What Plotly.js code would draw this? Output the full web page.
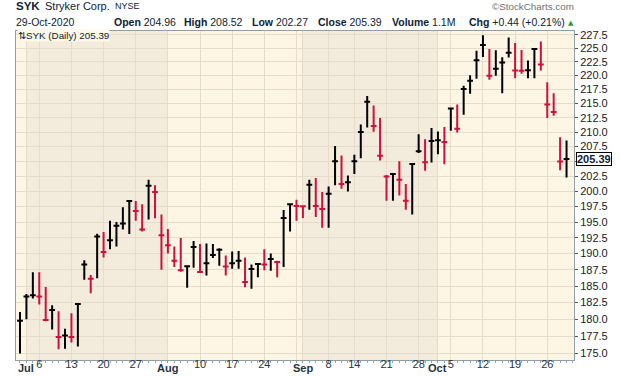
<!DOCTYPE html>
<html>
<head>
<meta charset="utf-8">
<script src="https://cdn.plot.ly/plotly-3.0.1.min.js"></script>
<style>
  html, body { margin: 0; padding: 0; background: #ffffff; }
  #chart { width: 620px; height: 376px; }
</style>
</head>
<body>
<div id="chart"></div>
<script>
// ---- Data ----
const dates = [
  '2020-06-30',
  '2020-07-01','2020-07-02','2020-07-06','2020-07-07','2020-07-08','2020-07-09','2020-07-10',
  '2020-07-13','2020-07-14','2020-07-15','2020-07-16','2020-07-17',
  '2020-07-20','2020-07-21','2020-07-22','2020-07-23','2020-07-24',
  '2020-07-27','2020-07-28','2020-07-29','2020-07-30','2020-07-31',
  '2020-08-03','2020-08-04','2020-08-05','2020-08-06','2020-08-07',
  '2020-08-10','2020-08-11','2020-08-12','2020-08-13','2020-08-14',
  '2020-08-17','2020-08-18','2020-08-19','2020-08-20','2020-08-21',
  '2020-08-24','2020-08-25','2020-08-26','2020-08-27','2020-08-28',
  '2020-08-31','2020-09-01','2020-09-02','2020-09-03','2020-09-04',
  '2020-09-08','2020-09-09','2020-09-10','2020-09-11',
  '2020-09-14','2020-09-15','2020-09-16','2020-09-17','2020-09-18',
  '2020-09-21','2020-09-22','2020-09-23','2020-09-24','2020-09-25',
  '2020-09-28','2020-09-29','2020-09-30','2020-10-01','2020-10-02',
  '2020-10-05','2020-10-06','2020-10-07','2020-10-08','2020-10-09',
  '2020-10-12','2020-10-13','2020-10-14','2020-10-15','2020-10-16',
  '2020-10-19','2020-10-20','2020-10-21','2020-10-22','2020-10-23',
  '2020-10-26','2020-10-27','2020-10-28','2020-10-29'
];
const highs = [
  181.1,
  183.8,187.1,187.1,184.85,182.1,181.2,178.6,
  180.9,182.4,188.95,186.7,193.15,
  193.4,195.2,195.0,197.4,198.5,
  198.4,197.9,201.9,201.0,196.2,
  193.9,191.1,192.45,188.1,192.0,
  191.5,191.6,191.5,190.85,189.7,
  190.35,190.4,189.4,188.3,188.5,
  190.7,190.0,188.9,196.95,198.0,
  198.6,197.65,201.9,202.2,199.9,
  200.8,207.6,206.0,202.6,
  206.1,211.3,216.3,214.65,212.45,
  202.7,202.9,205.0,201.2,204.6,
  209.6,208.75,210.7,210.1,210.85,
  214.2,214.8,218.15,220.05,224.55,
  227.4,224.85,224.6,223.35,227.0,
  225.95,224.65,222.75,225.0,226.25,
  218.8,216.8,209.1,208.52
];
const lows = [
  175.0,
  180.0,183.1,182.2,179.7,178.5,175.6,175.7,
  176.6,176.0,185.97,183.9,186.2,
  189.4,190.7,191.1,193.8,193.1,
  195.2,193.5,195.4,195.6,187.5,
  190.0,187.9,187.2,184.75,187.8,
  187.0,186.6,189.3,188.1,186.6,
  187.65,187.65,184.8,184.6,186.35,
  187.4,187.35,186.35,187.9,193.5,
  195.2,195.65,197.0,195.8,194.1,
  194.1,201.0,200.4,199.95,
  202.85,205.5,210.8,210.05,205.15,
  198.45,198.45,199.3,197.0,196.2,
  206.4,203.4,204.8,206.2,204.5,
  210.2,209.9,213.0,216.7,219.4,
  223.4,219.25,219.95,216.8,223.3,
  219.5,220.3,219.5,219.5,220.9,
  212.45,212.85,203.5,202.27
];
const closes = [
  179.8,
  183.4,183.6,183.4,179.9,181.4,177.4,177.6,
  177.4,182.3,188.3,186.1,192.7,
  190.25,192.1,194.4,194.75,198.4,
  196.8,193.8,200.9,199.9,192.9,
  191.3,188.9,187.4,188.05,191.05,
  187.15,188.5,189.8,190.6,188.0,
  188.5,188.9,185.6,187.6,188.4,
  188.3,189.15,188.7,195.65,197.9,
  197.6,197.55,201.1,197.6,197.1,
  199.6,205.0,201.2,201.5,
  205.0,210.0,215.3,211.05,205.95,
  202.45,202.85,201.9,198.45,204.55,
  206.7,204.85,208.45,208.6,208.3,
  214.1,210.55,217.55,219.05,222.8,
  225.6,219.95,221.25,222.35,224.15,
  220.9,220.85,220.95,224.85,222.0,
  214.8,213.5,204.95,205.39
];
const tickDates = ['2020-07-01','2020-07-06','2020-07-13','2020-07-20','2020-07-27',
  '2020-08-03','2020-08-10','2020-08-17','2020-08-24','2020-08-31',
  '2020-09-01','2020-09-08','2020-09-14','2020-09-21','2020-09-28',
  '2020-10-01','2020-10-05','2020-10-12','2020-10-19','2020-10-26'];
const tickLabels = ['Jul','6','13','20','27',
  'Aug','10','17','24','',
  'Sep','8','14','21','28',
  'Oct','5','12','19','26'];
const monthLabels = ['Jul','Aug','Sep','Oct'];
const yTicks = [175,177.5,180,182.5,185,187.5,190,192.5,195,197.5,200,202.5,205,207.5,210,212.5,215,217.5,220,222.5,225,227.5];
const quote = {date:'29-Oct-2020', open:'204.96', high:'208.52', low:'202.27', close:'205.39', volume:'1.1M', chg:'+0.44', pct:'+0.21%'};

// ---- Layout helpers ----
const W = 620, H = 376;
const M = {l:16, r:46, t:31, b:16};
const PW = W - M.l - M.r, PH = H - M.t - M.b;
const px = v => (v - M.l) / PW;
const py = v => (H - M.b - v) / PH;

const idx = dates.map((d, i) => i);
const tickIdx = tickDates.map(d => dates.indexOf(d));
const lastClose = closes[closes.length - 1];

// month shading (alternate months darker)
const monthStarts = [];
dates.forEach((d, i) => { if (i === 0 || d.slice(0,7) !== dates[i-1].slice(0,7)) monthStarts.push(i); });
const shapes = [];
monthStarts.forEach((s, k) => {
  const m = parseInt(dates[s].slice(5,7), 10);
  if (m % 2 === 1) {
    const e = k + 1 < monthStarts.length ? monthStarts[k+1] : dates.length + 5;
    shapes.push({type:'rect', xref:'x', yref:'paper', x0:s, x1:e, y0:0, y1:1,
      fillcolor:'#f3ecdc', line:{width:0}, layer:'below'});
  }
});

const NAVY = '#0e2233';
const F = 'Liberation Sans, Arial, sans-serif';
const ann = (text, x, y, size, opts) => Object.assign({
  text, xref:'paper', yref:'paper', x:px(x), y:py(y), xanchor:'left', yanchor:'middle',
  showarrow:false, font:{family:F, size, color:NAVY}, borderpad:0
}, opts || {});

const annotations = [
  ann('<b>SYK</b>', 15, 6.5, 11.5),
  ann('Stryker Corp.', 44, 6.5, 11),
  ann('NYSE', 114, 6.5, 9),
  ann('©StockCharts.com', 575, 6.5, 9.8, {xanchor:'right', font:{family:F, size:9.8, color:'#707070'}}),
  ann(quote.date, 15, 22.5, 10.5),
  ann('<b>Open</b> ' + quote.open, 113, 22.5, 10.5),
  ann('<b>High</b> ' + quote.high, 183, 22.5, 10.5),
  ann('<b>Low</b> ' + quote.low, 251, 22.5, 10.5),
  ann('<b>Close</b> ' + quote.close, 317, 22.5, 10.5),
  ann('<b>Volume</b> ' + quote.volume, 391, 22.5, 10.5),
  ann('<b>Chg</b> ' + quote.chg + ' (' + quote.pct + ')', 468, 22.5, 10.5),
  ann('▲', 575, 23, 7, {xanchor:'right', font:{family:'DejaVu Sans', size:7, color:'#2e9b2e'}}),
  ann('⇅SYK (Daily) ' + quote.close, 17, 35.5, 9.8, {bgcolor:'#fdf8e8'}),
  {text:'<b>' + lastClose.toFixed(2) + '</b>', xref:'paper', yref:'y', x:1, xshift:2,
   y:Math.log10(lastClose), xanchor:'left', yanchor:'middle', showarrow:false,
   font:{family:F, size:11, color:NAVY}, bgcolor:'#ffffff', bordercolor:'#000000',
   borderwidth:1, borderpad:0}
];
// bold month names on the time axis
tickLabels.forEach((t, k) => {
  if (monthLabels.includes(t)) {
    annotations.push({text:'<b>' + t + '</b>', xref:'x', yref:'paper', x:tickIdx[k], y:py(367.5),
      xanchor:'center', yanchor:'middle', showarrow:false, borderpad:0,
      font:{family:F, size:11, color:'#1e3442'}});
  }
});

const trace = {
  type:'ohlc', x:idx, open:closes, high:highs, low:lows, close:closes,
  increasing:{line:{color:'#000000', width:2}},
  decreasing:{line:{color:'#d0103a', width:2}},
  tickwidth:0.45, hoverinfo:'skip', showlegend:false
};

const layout = {
  width:W, height:H, margin:M,
  paper_bgcolor:'#ffffff', plot_bgcolor:'#fdf6e4',
  font:{family:F, size:11, color:NAVY},
  showlegend:false, dragmode:false,
  xaxis:{
    type:'linear', range:[-0.62, 86.16], rangeslider:{visible:false},
    tickmode:'array', tickvals:tickIdx,
    ticktext:tickLabels.map(t => monthLabels.includes(t) ? '' : t),
    showgrid:true, gridcolor:'#e6dcc9', gridwidth:1, zeroline:false,
    showline:true, mirror:true, linecolor:'#8f9ea5', linewidth:1,
    ticks:'outside', ticklen:2, tickcolor:'#8f9ea5', ticklabelstandoff:-8,
    tickfont:{family:F, size:11, color:'#1e3442'},
    minor:{tickmode:'linear', tick0:0, dtick:1, ticks:'outside', ticklen:2, tickcolor:'#9aa6ab', showgrid:false}
  },
  yaxis:{
    type:'log', side:'right', range:[Math.log10(174.07), Math.log10(228.21)],
    tickmode:'array', tickvals:yTicks,
    ticktext:yTicks.map(v => Math.abs(v - lastClose) < 1.2 ? '' : v.toFixed(1)),
    showgrid:true, gridcolor:'#e6dcc9', gridwidth:1, zeroline:false,
    showline:true, mirror:true, linecolor:'#8f9ea5', linewidth:1,
    ticks:'outside', ticklen:3, tickcolor:'#555555',
    tickfont:{family:F, size:11, color:'#1a1a1a'}
  },
  shapes, annotations
};

Plotly.newPlot('chart', [trace], layout, {displayModeBar:false, staticPlot:true});
</script>
</body>
</html>
